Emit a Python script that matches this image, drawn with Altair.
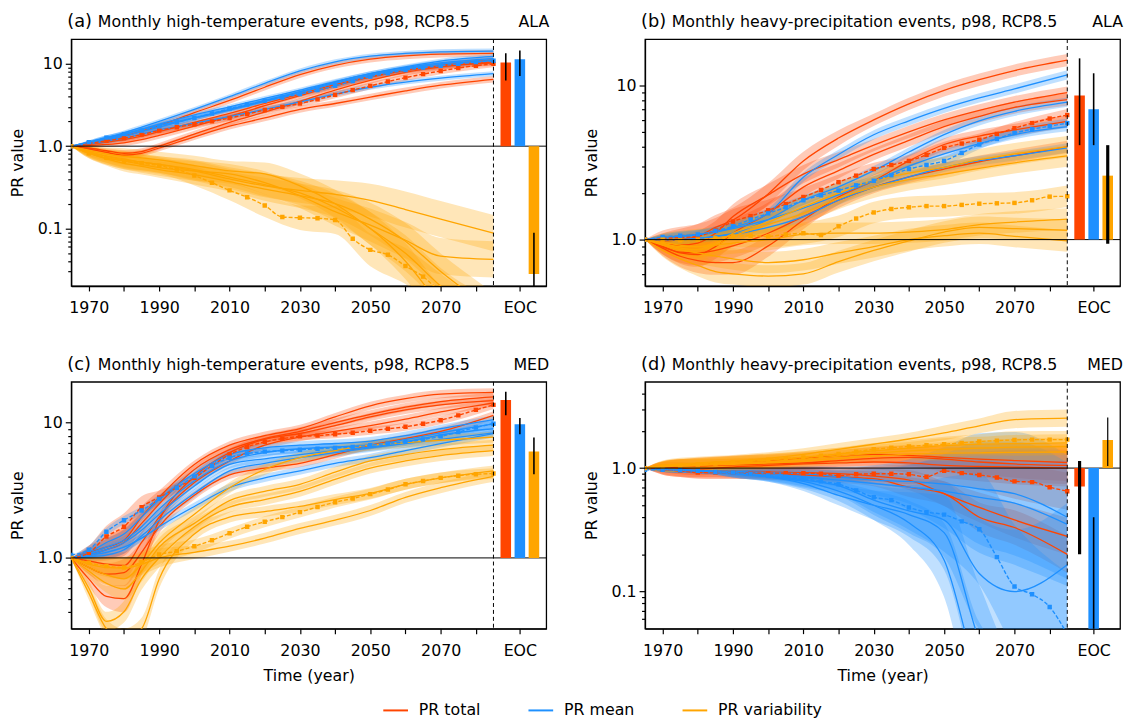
import altair as alt
import pandas as pd

# ---------------- data ----------------
YEARS = [1965, 1970, 1975, 1980, 1985, 1990, 2000, 2010, 2020, 2030, 2040, 2050, 2060, 2070, 2085]
YEARS_MEAN = [1965, 1970, 1975, 1980, 1985, 1990, 1995, 2000, 2005, 2010, 2015, 2020, 2025,
              2030, 2035, 2040, 2045, 2050, 2055, 2060, 2065, 2070, 2075, 2080, 2085]
TYPES = ["PR total", "PR mean", "PR variability"]
COLORS = ["#ff4500", "#1e90ff", "#ffa500"]

# panel (a) ALA temperature
A_TOTAL_RUNS = [
    [1.0, 1.08, 1.18, 1.32, 1.52, 1.78, 2.55, 3.6, 5.2, 7.4, 9.6, 11.4, 12.5, 13.1, 13.4],
    [1.0, 1.05, 1.12, 1.2, 1.32, 1.5, 1.95, 2.5, 3.3, 4.3, 5.6, 7.0, 8.4, 9.6, 11.2],
    [1.0, 0.95, 0.88, 0.82, 0.86, 1.0, 1.4, 1.95, 2.6, 3.5, 4.8, 6.3, 7.9, 9.2, 10.6],
    [1.0, 0.93, 0.84, 0.78, 0.82, 0.95, 1.3, 1.75, 2.2, 2.8, 3.3, 3.95, 4.7, 5.5, 6.5],
    [1.0, 1.02, 1.05, 1.1, 1.2, 1.35, 1.75, 2.3, 3.1, 4.1, 5.4, 6.9, 8.3, 9.4, 10.3],
]
A_TOTAL_AVG = [1.0, 1.08, 1.16, 1.25, 1.38, 1.55, 1.7, 1.85, 2.0, 2.2, 2.45, 2.75, 3.0,
               3.3, 3.7, 4.2, 4.8, 5.4, 6.1, 6.8, 7.5, 8.2, 8.9, 9.5, 10.0]
A_MEAN_RUNS = [
    [1.0, 1.1, 1.25, 1.45, 1.7, 2.0, 2.8, 4.0, 5.8, 8.2, 10.6, 12.4, 13.4, 14.0, 14.3],
    [1.0, 1.1, 1.22, 1.38, 1.6, 1.85, 2.4, 3.0, 3.8, 4.8, 6.1, 7.6, 9.0, 10.3, 11.6],
    [1.0, 1.08, 1.18, 1.32, 1.5, 1.7, 2.2, 2.8, 3.6, 4.6, 6.0, 7.6, 9.2, 10.8, 12.3],
    [1.0, 1.07, 1.15, 1.25, 1.4, 1.58, 1.9, 2.28, 2.8, 3.45, 4.3, 5.2, 6.0, 6.7, 7.6],
    [1.0, 1.12, 1.27, 1.42, 1.6, 1.8, 2.2, 2.75, 3.5, 4.5, 5.8, 7.3, 8.7, 9.9, 11.0],
]
A_MEAN_AVG = [1.0, 1.12, 1.27, 1.4, 1.55, 1.75, 1.95, 2.2, 2.5, 2.85, 3.2, 3.55, 3.9,
              4.3, 4.8, 5.4, 6.2, 7.0, 7.7, 8.4, 9.0, 9.5, 10.0, 10.5, 10.9]
A_VAR_RUNS = [
    [1.0, 0.85, 0.75, 0.68, 0.64, 0.6, 0.5, 0.4, 0.33, 0.29, 0.26, 0.22, 0.17, 0.13, 0.088],
    [1.0, 0.84, 0.72, 0.66, 0.6, 0.55, 0.5, 0.46, 0.36, 0.25, 0.16, 0.11, 0.072, 0.046, 0.042],
    [1.0, 0.86, 0.76, 0.7, 0.64, 0.6, 0.52, 0.42, 0.34, 0.27, 0.18, 0.1, 0.04, 0.012, 0.005],
    [1.0, 0.82, 0.7, 0.62, 0.57, 0.52, 0.45, 0.37, 0.3, 0.25, 0.2, 0.13, 0.07, 0.03, 0.01],
    [1.0, 0.88, 0.8, 0.75, 0.72, 0.68, 0.58, 0.5, 0.46, 0.33, 0.2, 0.1, 0.05, 0.02, 0.008],
]
A_VAR_AVG = [1.0, 0.82, 0.72, 0.66, 0.62, 0.58, 0.52, 0.44, 0.36, 0.29, 0.24, 0.19, 0.138,
             0.135, 0.133, 0.127, 0.075, 0.055, 0.048, 0.035, 0.026, 0.017, 0.012, 0.008, 0.006]
A_BAND = {
    "PR total": [0, .02, .03, .04, .04, .04, .04, .04, .04, .04, .04, .04, .04, .04, .04],
    "PR mean": [0, .02, .03, .03, .03, .03, .03, .03, .03, .03, .03, .03, .03, .03, .03],
    "PR variability": [0, .06, .08, .1, .1, .1, .12, .12, .14, .15, .17, .2, .22, .22, .22],
}
A_EOC = [10.4, 11.4, 0.028]
A_EOC_LOW = [6.3, 7.1, 0.01]
A_EOC_HIGH = [13.5, 14.5, 0.089]

# panel (b) ALA precipitation
B_TOTAL_RUNS = [
    [1.0, 0.98, 1.0, 1.05, 1.2, 1.34, 1.98, 3.24, 4.56, 5.98, 7.6, 9.3, 10.9, 12.5, 14.6],
    [1.0, 0.95, 0.92, 0.95, 1.1, 1.41, 1.95, 2.66, 3.3, 4.1, 5.0, 5.98, 6.9, 7.8, 9.0],
    [1.0, 0.9, 0.82, 0.8, 0.9, 1.1, 1.48, 2.19, 2.8, 3.57, 4.4, 5.4, 6.3, 7.2, 8.1],
    [1.0, 0.88, 0.78, 0.73, 0.71, 0.71, 0.91, 1.34, 1.89, 2.41, 3.24, 4.14, 4.7, 5.15, 5.85],
    [1.0, 0.9, 0.83, 0.82, 0.85, 0.91, 1.1, 1.41, 1.8, 2.19, 2.55, 2.87, 3.2, 3.5, 4.0],
]
B_TOTAL_AVG = [1.0, 1.02, 1.03, 1.05, 1.15, 1.31, 1.42, 1.55, 1.7, 1.89, 2.1, 2.36, 2.6,
               2.87, 3.05, 3.24, 3.55, 3.94, 4.2, 4.45, 4.85, 5.28, 5.7, 6.1, 6.43]
B_MEAN_RUNS = [
    [1.0, 1.02, 1.04, 1.07, 1.12, 1.2, 1.48, 2.54, 3.57, 4.79, 5.9, 7.1, 8.3, 9.5, 11.7],
    [1.0, 1.0, 1.0, 1.02, 1.05, 1.1, 1.35, 1.8, 2.2, 2.8, 3.7, 4.8, 5.9, 6.8, 7.8],
    [1.0, 1.0, 1.0, 1.02, 1.05, 1.08, 1.2, 1.41, 1.8, 2.19, 2.55, 2.94, 3.25, 3.5, 3.94],
    [1.0, 1.03, 1.05, 1.08, 1.12, 1.18, 1.35, 1.6, 1.95, 2.4, 3.0, 3.6, 4.2, 4.8, 5.4],
]
B_MEAN_AVG = [1.0, 1.04, 1.06, 1.08, 1.14, 1.22, 1.35, 1.48, 1.62, 1.8, 1.94, 2.08, 2.25,
              2.41, 2.62, 2.87, 3.05, 3.24, 3.65, 4.14, 4.5, 4.92, 5.2, 5.45, 5.7]
B_VAR_RUNS = [
    [1.0, 0.96, 0.92, 0.9, 0.95, 1.1, 1.3, 1.63, 2.0, 2.41, 2.7, 2.94, 3.3, 3.6, 4.0],
    [1.0, 0.94, 0.88, 0.86, 0.92, 1.05, 1.25, 1.48, 1.85, 2.19, 2.45, 2.66, 2.9, 3.15, 3.49],
    [1.0, 0.95, 0.9, 0.9, 0.92, 0.95, 1.0, 1.08, 1.1, 1.1, 1.12, 1.16, 1.25, 1.3, 1.36],
    [1.0, 0.85, 0.75, 0.68, 0.62, 0.6, 0.58, 0.6, 0.72, 0.85, 0.98, 1.12, 1.2, 1.18, 1.15],
    [1.0, 0.92, 0.86, 0.82, 0.78, 0.75, 0.71, 0.74, 0.82, 0.9, 1.0, 1.06, 1.1, 1.05, 0.98],
]
B_VAR_AVG = [1.0, 1.0, 0.99, 1.0, 1.02, 1.05, 1.06, 1.05, 1.08, 1.1, 1.07, 1.22, 1.37,
             1.5, 1.58, 1.62, 1.65, 1.65, 1.68, 1.71, 1.72, 1.73, 1.8, 1.9, 1.91]
B_BAND = {
    "PR total": [0, .05, .07, .08, .08, .08, .07, .06, .05, .04, .04, .04, .04, .04, .04],
    "PR mean": [0, .02, .03, .03, .03, .03, .03, .03, .03, .03, .03, .03, .03, .03, .03],
    "PR variability": [0, .04, .06, .07, .07, .07, .07, .07, .07, .07, .07, .07, .07, .07, .07],
}
B_EOC = [8.6, 7.0, 2.6]
B_EOC_LOW = [4.1, 4.1, 0.94]
B_EOC_HIGH = [15.0, 12.0, 4.1]

# panel (c) MED temperature
C_TOTAL_RUNS = [
    [1.0, 1.1, 1.2, 1.35, 2.0, 2.8, 4.9, 6.8, 8.0, 9.0, 11.0, 13.3, 15.0, 16.2, 16.7],
    [1.0, 1.05, 1.15, 1.3, 1.8, 2.5, 4.5, 6.3, 7.6, 8.6, 10.0, 11.5, 13.0, 14.3, 15.5],
    [1.0, 0.7, 0.52, 0.5, 0.9, 1.9, 4.0, 6.0, 7.5, 8.3, 9.5, 11.0, 12.4, 13.5, 14.5],
    [1.0, 0.85, 0.76, 0.78, 1.1, 1.7, 2.9, 4.1, 4.6, 5.0, 5.8, 6.8, 7.6, 8.6, 11.3],
    [1.0, 0.95, 0.9, 0.88, 1.3, 2.0, 3.6, 5.2, 6.8, 7.8, 8.6, 9.5, 10.6, 12.0, 14.0],
]
C_TOTAL_AVG = [1.0, 1.09, 1.44, 1.7, 2.37, 2.8, 3.3, 3.9, 4.8, 5.8, 6.6, 7.2, 7.6,
               7.9, 8.0, 8.2, 8.4, 8.7, 9.0, 9.3, 9.8, 10.4, 11.3, 12.4, 13.5]
C_MEAN_RUNS = [
    [1.0, 1.1, 1.3, 1.5, 2.0, 2.7, 4.2, 5.8, 6.5, 6.8, 7.0, 7.3, 8.0, 9.0, 10.5],
    [1.0, 1.05, 1.15, 1.3, 1.6, 2.1, 3.4, 4.9, 5.4, 5.8, 6.2, 6.6, 7.2, 8.1, 9.0],
    [1.0, 1.05, 1.1, 1.2, 1.4, 1.7, 2.4, 3.3, 3.9, 4.4, 5.0, 5.5, 6.2, 7.0, 8.3],
    [1.0, 1.08, 1.2, 1.35, 1.7, 2.3, 3.7, 5.2, 6.0, 6.4, 6.6, 6.8, 7.5, 8.4, 9.8],
    [1.0, 1.02, 1.05, 1.15, 1.45, 1.9, 3.0, 4.4, 5.0, 5.5, 6.0, 6.5, 7.0, 7.5, 8.4],
]
C_MEAN_AVG = [1.05, 1.15, 1.56, 1.9, 2.24, 2.73, 3.3, 4.0, 4.8, 5.5, 5.9, 6.1, 6.2,
              6.3, 6.4, 6.5, 6.6, 6.8, 7.0, 7.2, 7.5, 7.9, 8.5, 9.2, 9.8]
C_VAR_RUNS = [
    [1.0, 0.85, 0.75, 0.7, 0.9, 1.29, 2.1, 3.3, 4.5, 5.5, 6.2, 6.8, 7.1, 7.4, 7.8],
    [1.0, 0.8, 0.65, 0.59, 0.8, 1.2, 1.8, 2.65, 3.1, 3.5, 4.3, 5.2, 5.8, 6.3, 6.8],
    [1.0, 0.6, 0.34, 0.4, 0.7, 1.0, 1.7, 2.37, 2.7, 3.1, 3.8, 4.6, 5.2, 5.7, 6.2],
    [1.0, 0.55, 0.3, 0.25, 0.3, 0.7, 1.5, 2.0, 2.2, 2.4, 2.7, 3.0, 3.5, 3.9, 4.4],
    [1.0, 0.9, 0.85, 0.84, 0.9, 1.0, 1.1, 1.22, 1.4, 1.65, 1.9, 2.24, 2.8, 3.3, 4.0],
]
C_VAR_AVG = [1.0, 0.92, 0.87, 0.85, 0.93, 1.06, 1.12, 1.22, 1.35, 1.52, 1.7, 1.85, 2.0,
             2.18, 2.38, 2.58, 2.75, 2.96, 3.2, 3.5, 3.7, 3.9, 4.05, 4.15, 4.2]
C_BAND = {
    "PR total": [0, .05, .08, .1, .08, .05, .03, .03, .03, .03, .03, .03, .03, .03, .03],
    "PR mean": [0, .03, .03, .03, .03, .03, .03, .03, .03, .03, .03, .03, .03, .03, .03],
    "PR variability": [0, .05, .07, .08, .08, .07, .05, .04, .04, .04, .04, .04, .04, .04, .04],
}
C_EOC = [14.7, 9.7, 6.1]
C_EOC_LOW = [11.3, 8.2, 4.15]
C_EOC_HIGH = [16.9, 10.8, 7.75]

# panel (d) MED precipitation
D_TOTAL_RUNS = [
    [1.0, 1.02, 1.05, 1.08, 1.1, 1.12, 1.15, 1.2, 1.25, 1.29, 1.27, 1.22, 1.18, 1.15, 1.11],
    [1.0, 1.03, 1.05, 1.04, 1.05, 1.06, 1.08, 1.1, 1.15, 1.2, 1.22, 1.18, 1.12, 1.08, 1.05],
    [1.0, 0.97, 0.95, 0.93, 0.92, 0.92, 0.9, 0.88, 0.85, 0.82, 0.7, 0.62, 0.4, 0.33, 0.2],
    [1.0, 0.98, 0.96, 0.95, 0.95, 0.94, 0.93, 0.92, 0.9, 0.86, 0.8, 0.62, 0.48, 0.38, 0.28],
    [1.0, 1.02, 1.0, 0.98, 1.0, 1.02, 1.05, 1.08, 1.1, 1.12, 1.1, 1.05, 1.03, 1.02, 1.0],
]
D_TOTAL_AVG = [1.0, 0.97, 0.95, 0.92, 0.92, 0.92, 0.91, 0.91, 0.91, 0.91, 0.9, 0.87, 0.89,
               0.9, 0.9, 0.89, 0.85, 0.95, 0.91, 0.88, 0.84, 0.78, 0.77, 0.7, 0.65]
D_MEAN_RUNS = [
    [1.0, 0.98, 0.97, 0.96, 0.95, 0.94, 0.92, 0.9, 0.85, 0.8, 0.78, 0.74, 0.68, 0.62, 0.4],
    [1.0, 0.98, 0.96, 0.95, 0.94, 0.93, 0.9, 0.85, 0.8, 0.75, 0.7, 0.65, 0.58, 0.52, 0.35],
    [1.0, 0.98, 0.96, 0.94, 0.92, 0.9, 0.85, 0.78, 0.65, 0.5, 0.36, 0.18, 0.02, 0.01, 0.01],
    [1.0, 0.98, 0.97, 0.95, 0.93, 0.9, 0.85, 0.75, 0.6, 0.5, 0.42, 0.3, 0.04, 0.01, 0.01],
    [1.0, 0.98, 0.96, 0.95, 0.93, 0.9, 0.86, 0.8, 0.72, 0.55, 0.45, 0.38, 0.14, 0.1, 0.165],
]
D_MEAN_AVG = [0.97, 0.97, 0.96, 0.95, 0.93, 0.92, 0.9, 0.87, 0.85, 0.82, 0.78, 0.74, 0.66,
              0.58, 0.55, 0.48, 0.44, 0.42, 0.37, 0.32, 0.19, 0.11, 0.095, 0.075, 0.045]
D_VAR_RUNS = [
    [1.0, 1.05, 1.08, 1.1, 1.12, 1.14, 1.2, 1.29, 1.42, 1.56, 1.72, 1.93, 2.2, 2.47, 2.54],
    [1.0, 1.04, 1.06, 1.08, 1.1, 1.12, 1.16, 1.22, 1.3, 1.38, 1.45, 1.52, 1.56, 1.58, 1.6],
    [1.0, 1.03, 1.05, 1.06, 1.08, 1.1, 1.13, 1.18, 1.25, 1.32, 1.38, 1.42, 1.45, 1.48, 1.5],
    [1.0, 1.02, 1.04, 1.05, 1.06, 1.07, 1.1, 1.14, 1.2, 1.25, 1.3, 1.32, 1.33, 1.34, 1.35],
]
D_VAR_AVG = [1.0, 1.03, 1.05, 1.07, 1.09, 1.11, 1.14, 1.17, 1.2, 1.22, 1.26, 1.3, 1.36,
             1.42, 1.46, 1.5, 1.53, 1.56, 1.6, 1.64, 1.67, 1.69, 1.7, 1.7, 1.7]
D_BAND = {
    "PR total": [0, .04, .05, .05, .05, .05, .05, .05, .05, .06, .08, .1, .12, .14, .15],
    "PR mean": [0, .02, .02, .02, .02, .03, .04, .06, .08, .12, .18, .3, .45, .5, .5],
    "PR variability": [0, .04, .05, .05, .05, .05, .05, .05, .05, .05, .05, .06, .06, .07, .07],
}
D_EOC = [0.71, 0.02, 1.69]
D_EOC_LOW = [0.2, 0.01, 1.04]
D_EOC_HIGH = [1.14, 0.40, 2.57]

PANELS = {
    "a": dict(runs=[A_TOTAL_RUNS, A_MEAN_RUNS, A_VAR_RUNS], avg=[A_TOTAL_AVG, A_MEAN_AVG, A_VAR_AVG],
              band=A_BAND, eoc=A_EOC, lo=A_EOC_LOW, hi=A_EOC_HIGH),
    "b": dict(runs=[B_TOTAL_RUNS, B_MEAN_RUNS, B_VAR_RUNS], avg=[B_TOTAL_AVG, B_MEAN_AVG, B_VAR_AVG],
              band=B_BAND, eoc=B_EOC, lo=B_EOC_LOW, hi=B_EOC_HIGH),
    "c": dict(runs=[C_TOTAL_RUNS, C_MEAN_RUNS, C_VAR_RUNS], avg=[C_TOTAL_AVG, C_MEAN_AVG, C_VAR_AVG],
              band=C_BAND, eoc=C_EOC, lo=C_EOC_LOW, hi=C_EOC_HIGH),
    "d": dict(runs=[D_TOTAL_RUNS, D_MEAN_RUNS, D_VAR_RUNS], avg=[D_TOTAL_AVG, D_MEAN_AVG, D_VAR_AVG],
              band=D_BAND, eoc=D_EOC, lo=D_EOC_LOW, hi=D_EOC_HIGH),
}
TITLES = {
    "a": "Monthly high-temperature events, p98, RCP8.5",
    "b": "Monthly heavy-precipitation events, p98, RCP8.5",
    "c": "Monthly high-temperature events, p98, RCP8.5",
    "d": "Monthly heavy-precipitation events, p98, RCP8.5",
}
REGIONS = {"a": "ALA", "b": "ALA", "c": "MED", "d": "MED"}
YDOMAINS = {"a": [0.02, 20], "b": [0.5, 20], "c": [0.3, 20], "d": [0.05, 5]}

# ---------------- layout / style constants ----------------
W, H = 481, 250
X_DOMAIN = [1965, 2100]
SPLIT_YEAR = 2085
EOC_POS = [2088.5, 2092.5, 2096.5]
EOC_HALF = 1.5
ERR_WIDTH = {"a": [1.6, 1.6, 1.6], "b": [1.6, 1.6, 3.2], "c": [1.6, 1.6, 1.6], "d": [3.2, 1.6, 1.2]}
FONT = "DejaVu Sans"
FS = 16
Y_TICKS_ALL = [0.02, 0.03, 0.04, 0.05, 0.06, 0.07, 0.08, 0.09,
               0.1, 0.2, 0.3, 0.4, 0.5, 0.6, 0.7, 0.8, 0.9,
               1, 2, 3, 4, 5, 6, 7, 8, 9, 10]
X_TICKS = [1970, 1980, 1990, 2000, 2010, 2020, 2030, 2040, 2050, 2060, 2070, 2080, 2092.5]

# ---------------- build tables ----------------
band_rows, line_rows, avg_rows, eoc_rows = [], [], [], []
for key, p in PANELS.items():
    for ti, t in enumerate(TYPES):
        bw = p["band"][t]
        for ri, run in enumerate(p["runs"][ti]):
            sid = f"{key}-{ti}-{ri}"
            for yr, v, w in zip(YEARS, run, bw):
                f = 10 ** w
                line_rows.append(dict(panel=key, type=t, series=sid, year=yr, v=v))
                band_rows.append(dict(panel=key, type=t, series=sid, year=yr, lo=v / f, hi=v * f))
        avg = p["avg"][ti]
        for yr, v in zip(YEARS_MEAN, avg):
            avg_rows.append(dict(panel=key, type=t, series=f"{key}-{ti}-avg", year=yr, v=v))
        for yr, w in zip(YEARS, bw):
            v = avg[YEARS_MEAN.index(yr)]
            f = 10 ** w
            band_rows.append(dict(panel=key, type=t, series=f"{key}-{ti}-avg", year=yr, lo=v / f, hi=v * f))
        eoc_rows.append(dict(panel=key, type=t, x0=EOC_POS[ti] - EOC_HALF, x1=EOC_POS[ti] + EOC_HALF,
                             xc=EOC_POS[ti], v=p["eoc"][ti], base=1.0,
                             elo=p["lo"][ti], ehi=p["hi"][ti], ew=ERR_WIDTH[key][ti]))

bands_df = pd.DataFrame(band_rows)
lines_df = pd.DataFrame(line_rows)
avg_df = pd.DataFrame(avg_rows)
eoc_df = pd.DataFrame(eoc_rows)
one_df = pd.DataFrame({"k": [0]})

cscale = alt.Scale(domain=TYPES, range=COLORS)
LEGEND = alt.Legend(orient="none", legendX=315, legendY=666, direction="horizontal", title=None,
                    symbolType="stroke", symbolSize=625, symbolStrokeWidth=2, symbolOpacity=1,
                    labelFontSize=FS, labelFont=FONT, labelColor="black",
                    columnPadding=44, labelOffset=10, padding=0)
COLOR = alt.Color("type:N", scale=cscale, legend=LEGEND)
MAJOR_TEST = "datum.value == 10 || datum.value == 1 || datum.value == 0.1"


def panel(key, letter, bottom_row):
    ydom = YDOMAINS[key]
    ysc = alt.Scale(type="log", domain=ydom, nice=False, zero=False)
    xsc = alt.Scale(domain=X_DOMAIN, nice=False, zero=False)
    yticks = [t for t in Y_TICKS_ALL if ydom[0] < t < ydom[1]]
    xaxis = alt.Axis(values=X_TICKS, grid=False, tickSize=5, labelPadding=9,
                     labelExpr="datum.value == 2092.5 ? 'EOC' : ((datum.value - 1970) % 20 == 0 ? '' + datum.value : '')",
                     labelOverlap=False, labelFlush=False,
                     title="Time (year)" if bottom_row else None, titlePadding=9)
    yaxis = alt.Axis(values=yticks, grid=False, labelOverlap=False, labelPadding=3,
                     tickSize={"condition": {"test": MAJOR_TEST, "value": 6}, "value": 3.5},
                     labelExpr="datum.value == 10 ? '10' : datum.value == 1 ? '1.0' : datum.value == 0.1 ? '0.1' : ''",
                     title="PR value", titlePadding=12)

    def X(field):
        return alt.X(field, type="quantitative", scale=xsc, axis=xaxis)

    def Y(field):
        return alt.Y(field, type="quantitative", scale=ysc, axis=yaxis)

    bands = alt.Chart(bands_df).transform_filter(alt.datum.panel == key).mark_area(
        opacity=0.28, clip=True, interpolate="monotone").encode(
        x=X("year"), y=Y("lo"), y2="hi:Q", color=COLOR, detail="series:N")
    lines = alt.Chart(lines_df).transform_filter(alt.datum.panel == key).mark_line(
        strokeWidth=1.3, clip=True, interpolate="monotone").encode(
        x=X("year"), y=Y("v"), color=COLOR, detail="series:N")
    avg_line = alt.Chart(avg_df).transform_filter(alt.datum.panel == key).mark_line(
        strokeWidth=1.4, clip=True, strokeDash=[4, 2], interpolate="monotone").encode(
        x=X("year"), y=Y("v"), color=COLOR, detail="series:N")
    avg_pts = alt.Chart(avg_df).transform_filter(alt.datum.panel == key).mark_square(
        size=20, opacity=1, clip=True).encode(
        x=X("year"), y=Y("v"), color=COLOR)
    hline = alt.Chart(one_df).mark_rule(color="black", strokeWidth=1).encode(
        y=alt.Y(datum=1, type="quantitative", scale=ysc, axis=yaxis))
    vline = alt.Chart(one_df).mark_rule(color="black", strokeWidth=1, strokeDash=[4, 3]).encode(
        x=alt.X(datum=SPLIT_YEAR, type="quantitative", scale=xsc, axis=xaxis))
    bars = alt.Chart(eoc_df).transform_filter(alt.datum.panel == key).mark_rect(clip=True).encode(
        x=X("x0"), x2="x1:Q", y=Y("v"), y2="base:Q", color=COLOR)
    errs = alt.Chart(eoc_df).transform_filter(alt.datum.panel == key).mark_rule(
        color="black", clip=True).encode(
        x=X("xc"), y=Y("elo"), y2="ehi:Q", strokeWidth=alt.StrokeWidth("ew:Q", scale=None))
    t_letter = alt.Chart(one_df).mark_text(align="left", baseline="alphabetic", fontSize=18, font=FONT,
                                          color="black").encode(
        x=alt.value(-4), y=alt.value(-12), text=alt.value(f"({letter})"))
    t_main = alt.Chart(one_df).mark_text(align="left", baseline="alphabetic", fontSize=FS, font=FONT,
                                        color="black").encode(
        x=alt.value(27), y=alt.value(-12), text=alt.value(TITLES[key]))
    t_reg = alt.Chart(one_df).mark_text(align="right", baseline="alphabetic", fontSize=FS, font=FONT,
                                       color="black").encode(
        x=alt.value(W + 3), y=alt.value(-12), text=alt.value(REGIONS[key]))
    return alt.layer(bands, lines, avg_line, avg_pts, hline, vline, bars, errs,
                     t_letter, t_main, t_reg).properties(width=W, height=H)


top = alt.hconcat(panel("a", "a", False), panel("b", "b", False), spacing=32)
bottom = alt.hconcat(panel("c", "c", True), panel("d", "d", True), spacing=32)
chart = alt.vconcat(top, bottom, spacing=39).resolve_scale(
    x="independent", y="independent", color="shared").properties(
    padding={"left": 0, "right": 0, "top": 0, "bottom": 0}, background="white").configure_view(
    stroke="black", strokeWidth=1.3).configure_axis(
    domainColor="black", domainWidth=1.3, tickColor="black", tickWidth=1.2, labelColor="black",
    titleColor="black", labelFont=FONT, titleFont=FONT, labelFontSize=FS, titleFontSize=FS,
    titleFontWeight="normal")

chart.save("out.html", embed_options={"renderer": "svg", "actions": False})
